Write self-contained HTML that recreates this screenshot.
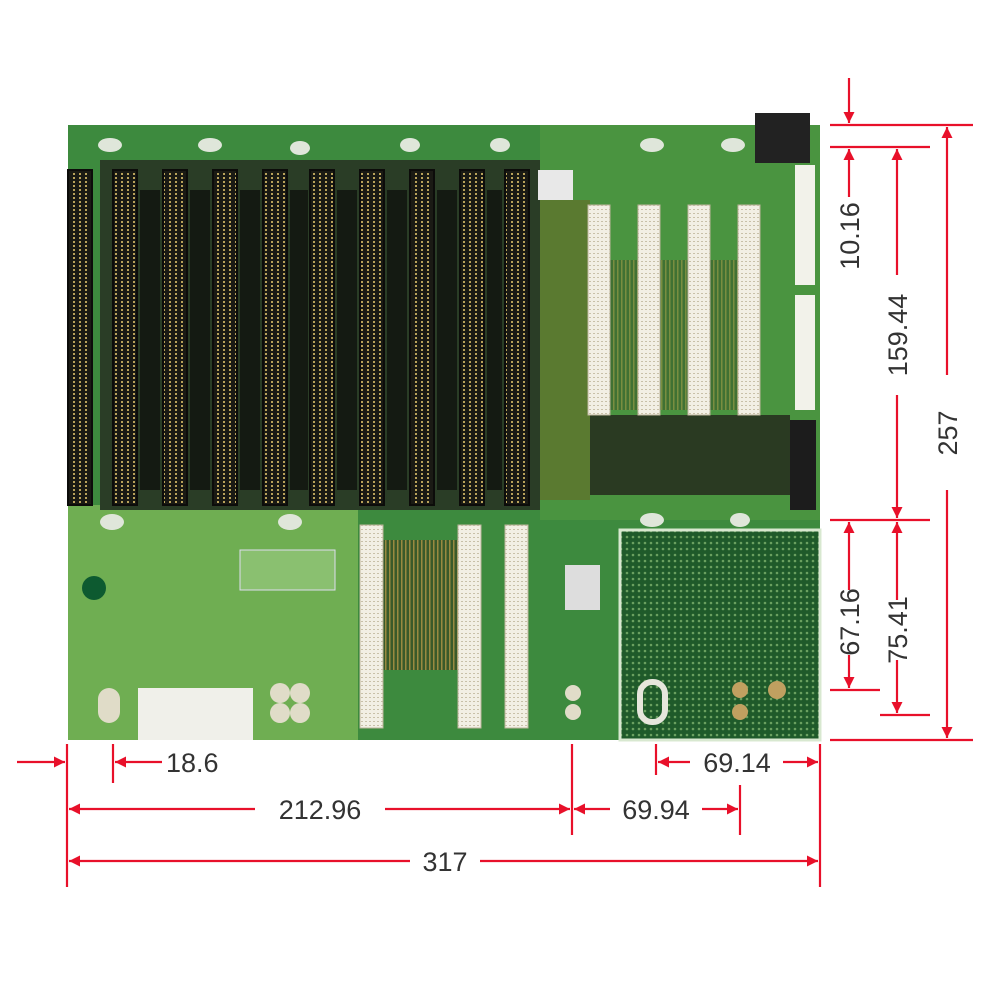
<!DOCTYPE html>
<html><head><style>
html,body{margin:0;padding:0;background:#fff;width:1000px;height:1000px;overflow:hidden}
text{font-family:"Liberation Sans",Arial,sans-serif;font-size:27px;fill:#333}
</style></head><body>
<svg width="1000" height="1000" viewBox="0 0 1000 1000" xmlns="http://www.w3.org/2000/svg">
<defs>
<marker id="a" viewBox="0 0 10 10" refX="10" refY="5" markerWidth="5" markerHeight="5" orient="auto-start-reverse"><path d="M0,0L10,5L0,10z" fill="#e8102a"/></marker>
<pattern id="pins" width="6" height="4" patternUnits="userSpaceOnUse"><rect width="6" height="4" fill="#1a1a14"/><rect x="1" y="1" width="2" height="2" fill="#b9a25a"/></pattern>
<pattern id="grid" width="6" height="6" patternUnits="userSpaceOnUse"><rect width="6" height="6" fill="#1f5a2a"/><circle cx="3" cy="3" r="1.3" fill="#6aa060"/></pattern>
<pattern id="pci" width="4" height="4" patternUnits="userSpaceOnUse"><rect width="4" height="4" fill="#f2efe4"/><rect x="1" y="1" width="2" height="1" fill="#c8c0a8"/></pattern>
<pattern id="trace" width="4" height="10" patternUnits="userSpaceOnUse"><rect width="4" height="10" fill="#3a5a2a"/><rect x="1" width="1.5" height="10" fill="#9a8a40"/></pattern>
</defs>
<rect x="68" y="125" width="752" height="615" fill="#3d8a3e"/>
<rect x="68" y="505" width="290" height="235" fill="#6fae52"/>
<rect x="540" y="125" width="280" height="395" fill="#4a9440"/>
<rect x="530" y="200" width="60" height="300" fill="#5a7a30"/>
<rect x="100" y="160" width="440" height="350" fill="#2a3d26"/>
<g fill="#141a12"><rect x="140" y="190" width="20" height="300"/><rect x="190" y="190" width="20" height="300"/><rect x="240" y="190" width="20" height="300"/><rect x="290" y="190" width="18" height="300"/><rect x="337" y="190" width="20" height="300"/><rect x="387" y="190" width="20" height="300"/><rect x="437" y="190" width="20" height="300"/><rect x="487" y="190" width="15" height="300"/></g>
<rect x="383" y="540" width="75" height="130" fill="url(#trace)"/>
<rect x="590" y="415" width="200" height="80" fill="#2a3a22"/>
<rect x="590" y="260" width="150" height="150" fill="url(#trace)" opacity="0.6"/>
<g fill="url(#pins)" stroke="#0c0c0a" stroke-width="2">
<rect x="68" y="170" width="24" height="335"/><rect x="113" y="170" width="24" height="335"/><rect x="163" y="170" width="24" height="335"/><rect x="213" y="170" width="24" height="335"/><rect x="263" y="170" width="24" height="335"/><rect x="310" y="170" width="24" height="335"/><rect x="360" y="170" width="24" height="335"/><rect x="410" y="170" width="24" height="335"/><rect x="460" y="170" width="24" height="335"/><rect x="505" y="170" width="24" height="335"/>
</g>
<g fill="#dfe6da"><ellipse cx="110" cy="145" rx="12" ry="7"/><ellipse cx="210" cy="145" rx="12" ry="7"/><ellipse cx="300" cy="148" rx="10" ry="7"/><ellipse cx="410" cy="145" rx="10" ry="7"/><ellipse cx="500" cy="145" rx="10" ry="7"/><ellipse cx="652" cy="145" rx="12" ry="7"/><ellipse cx="733" cy="145" rx="12" ry="7"/><ellipse cx="112" cy="522" rx="12" ry="8"/><ellipse cx="290" cy="522" rx="12" ry="8"/><ellipse cx="652" cy="520" rx="12" ry="7"/><ellipse cx="740" cy="520" rx="10" ry="7"/></g>
<g fill="url(#pci)" stroke="#bdb59c" stroke-width="1">
<rect x="588" y="205" width="22" height="210"/><rect x="638" y="205" width="22" height="210"/><rect x="688" y="205" width="22" height="210"/><rect x="738" y="205" width="22" height="210"/>
<rect x="360" y="525" width="23" height="203"/><rect x="458" y="525" width="23" height="203"/><rect x="505" y="525" width="23" height="203"/>
</g>
<rect x="755" y="113" width="55" height="50" fill="#222"/>
<rect x="795" y="165" width="20" height="120" fill="#f2f2ea"/>
<rect x="795" y="295" width="20" height="115" fill="#f2f2ea"/>
<rect x="790" y="420" width="26" height="90" fill="#1c1c1c"/>
<rect x="538" y="170" width="35" height="30" fill="#e8e8e8"/>
<rect x="620" y="530" width="200" height="210" fill="url(#grid)" stroke="#d8e8d0" stroke-width="3"/>
<rect x="640" y="682" width="25" height="40" rx="12" fill="none" stroke="#e6e6dc" stroke-width="6"/>
<circle cx="740" cy="690" r="8" fill="#c0a060"/><circle cx="740" cy="712" r="8" fill="#c0a060"/><circle cx="777" cy="690" r="9" fill="#c0a060"/>
<rect x="138" y="688" width="115" height="52" fill="#f0f0ea"/>
<circle cx="94" cy="588" r="12" fill="#0d5a30"/>
<circle cx="280" cy="693" r="10" fill="#e0dcc8"/><circle cx="300" cy="693" r="10" fill="#e0dcc8"/><circle cx="280" cy="713" r="10" fill="#e0dcc8"/><circle cx="300" cy="713" r="10" fill="#e0dcc8"/>
<rect x="98" y="688" width="22" height="35" rx="11" fill="#e0dcc8"/>
<rect x="240" y="550" width="95" height="40" fill="#8ac070" stroke="#dde" stroke-width="1"/>
<rect x="565" y="565" width="35" height="45" fill="#ddd"/>
<circle cx="573" cy="693" r="8" fill="#e0dcc8"/><circle cx="573" cy="712" r="8" fill="#e0dcc8"/>
<g stroke="#e8102a" stroke-width="2.2" fill="none">
<line x1="830" y1="125" x2="973" y2="125"/><line x1="830" y1="147" x2="930" y2="147"/>
<line x1="830" y1="520" x2="930" y2="520"/><line x1="830" y1="690" x2="880" y2="690"/>
<line x1="880" y1="715" x2="930" y2="715"/><line x1="830" y1="740" x2="973" y2="740"/>
<line x1="849" y1="78" x2="849" y2="123" marker-end="url(#a)"/>
<line x1="849" y1="197" x2="849" y2="149" marker-end="url(#a)"/>
<line x1="897" y1="275" x2="897" y2="149" marker-end="url(#a)"/>
<line x1="897" y1="395" x2="897" y2="518" marker-end="url(#a)"/>
<line x1="947" y1="375" x2="947" y2="127" marker-end="url(#a)"/>
<line x1="947" y1="490" x2="947" y2="738" marker-end="url(#a)"/>
<line x1="849" y1="590" x2="849" y2="522" marker-end="url(#a)"/>
<line x1="849" y1="655" x2="849" y2="688" marker-end="url(#a)"/>
<line x1="897" y1="600" x2="897" y2="522" marker-end="url(#a)"/>
<line x1="897" y1="660" x2="897" y2="713" marker-end="url(#a)"/>
<line x1="67" y1="744" x2="67" y2="887"/><line x1="113" y1="744" x2="113" y2="783"/>
<line x1="572" y1="744" x2="572" y2="835"/><line x1="740" y1="785" x2="740" y2="835"/>
<line x1="656" y1="744" x2="656" y2="775"/><line x1="820" y1="744" x2="820" y2="887"/>
<line x1="17" y1="762" x2="65" y2="762" marker-end="url(#a)"/>
<line x1="162" y1="762" x2="115" y2="762" marker-end="url(#a)"/>
<line x1="255" y1="809" x2="69" y2="809" marker-end="url(#a)"/>
<line x1="385" y1="809" x2="570" y2="809" marker-end="url(#a)"/>
<line x1="610" y1="809" x2="574" y2="809" marker-end="url(#a)"/>
<line x1="702" y1="809" x2="738" y2="809" marker-end="url(#a)"/>
<line x1="690" y1="762" x2="658" y2="762" marker-end="url(#a)"/>
<line x1="783" y1="762" x2="818" y2="762" marker-end="url(#a)"/>
<line x1="410" y1="861" x2="69" y2="861" marker-end="url(#a)"/>
<line x1="480" y1="861" x2="818" y2="861" marker-end="url(#a)"/>
</g>
<text x="166" y="772">18.6</text>
<text x="320" y="819" text-anchor="middle">212.96</text>
<text x="656" y="819" text-anchor="middle">69.94</text>
<text x="737" y="772" text-anchor="middle">69.14</text>
<text x="445" y="871" text-anchor="middle">317</text>
<text transform="translate(859,236) rotate(-90)" text-anchor="middle">10.16</text>
<text transform="translate(907,335) rotate(-90)" text-anchor="middle">159.44</text>
<text transform="translate(957,433) rotate(-90)" text-anchor="middle">257</text>
<text transform="translate(859,622) rotate(-90)" text-anchor="middle">67.16</text>
<text transform="translate(907,630) rotate(-90)" text-anchor="middle">75.41</text>
</svg>
</body></html>
